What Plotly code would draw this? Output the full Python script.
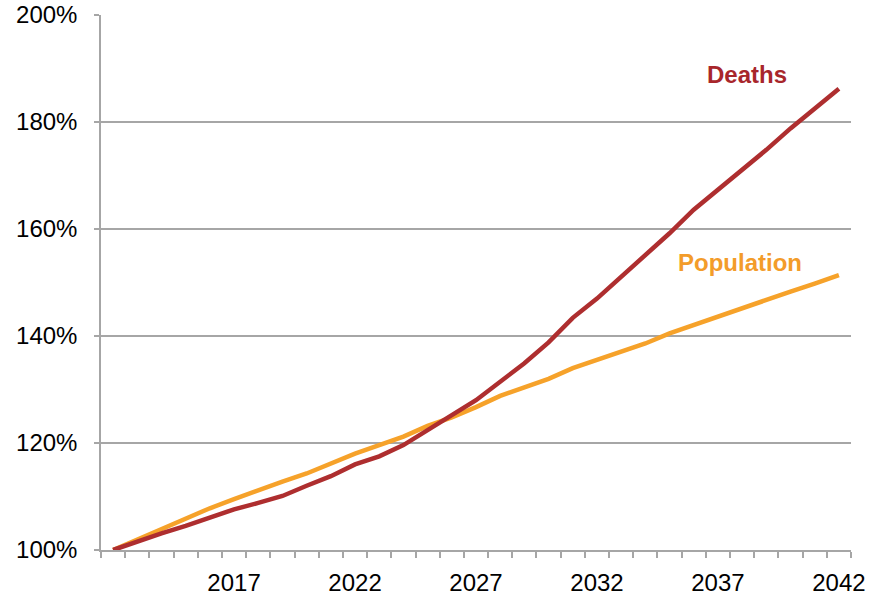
import plotly.graph_objects as go

years = list(range(2012, 2043))
deaths = [100.0, 101.6, 103.1, 104.5, 106.0, 107.6, 108.8, 110.1, 112.0, 113.8,
          116.0, 117.5, 119.6, 122.3, 125.2, 128.0, 131.5, 134.9, 138.8, 143.4,
          147.0, 151.1, 155.0, 159.2, 163.6, 167.3, 170.9, 174.8, 178.8, 182.6,
          186.2]
population = [100.0, 102.0, 104.0, 106.0, 107.8, 109.5, 111.2, 112.8, 114.3, 116.2,
              118.0, 119.6, 121.2, 123.2, 124.8, 126.7, 128.8, 130.4, 132.0, 134.0,
              135.5, 137.1, 138.6, 140.5, 142.1, 143.7, 145.2, 146.7, 148.3, 149.8,
              151.4]
x_tick_labels = [2017, 2022, 2027, 2032, 2037, 2042]
y_ticks = [100, 120, 140, 160, 180, 200]

DEATH_C = "#AE2E2F"
POP_C = "#F6A22A"
GRID_C = "#A6A6A6"
FONT = "Liberation Sans, Arial, sans-serif"

fig = go.Figure()
fig.add_trace(go.Scatter(x=years, y=population, mode="lines", name="Population",
                         line=dict(color=POP_C, width=4.5)))
fig.add_trace(go.Scatter(x=years, y=deaths, mode="lines", name="Deaths",
                         line=dict(color=DEATH_C, width=4.5)))

fig.add_annotation(x=2036.47, y=188.9, text="<b>Deaths</b>", showarrow=False,
                   font=dict(family=FONT, size=24, color="#A8262B"),
                   xanchor="left", yanchor="middle")
fig.add_annotation(x=2035.25, y=153.7, text="<b>Population</b>", showarrow=False,
                   font=dict(family=FONT, size=24, color="#F39C2A"),
                   xanchor="left", yanchor="middle")

fig.update_layout(
    width=870, height=597,
    margin=dict(l=101, r=19, t=15, b=47),
    paper_bgcolor="white", plot_bgcolor="white",
    showlegend=False,
    font=dict(family=FONT, size=24, color="#000000"),
)
fig.update_xaxes(
    range=[2011.5, 2042.5], automargin=False,
    tickmode="array", tickvals=x_tick_labels,
    ticktext=[str(v) for v in x_tick_labels],
    ticks="outside", ticklen=0, ticklabelstandoff=10,
    showgrid=False, zeroline=False,
    showline=True, linecolor=GRID_C, linewidth=1.5,
    tickfont=dict(family=FONT, size=24, color="#000"),
    minor=dict(tick0=2011.5, dtick=1, ticks="outside", ticklen=6,
               tickcolor=GRID_C, tickwidth=1.5, showgrid=False),
)
fig.update_yaxes(
    range=[100, 200], automargin=False,
    tickmode="array", tickvals=y_ticks,
    ticktext=[f"{v}%" for v in y_ticks],
    ticks="outside", ticklen=5, tickcolor=GRID_C, tickwidth=1.5,
    ticklabelstandoff=12,
    showgrid=True, gridcolor=GRID_C, gridwidth=1.5,
    zeroline=False,
    showline=True, linecolor=GRID_C, linewidth=1.5,
    tickfont=dict(family=FONT, size=24, color="#000"),
)

fig.write_html("out.html", config={"displayModeBar": False},
               post_script="document.body.style.margin='0';document.body.style.overflow='hidden';")
